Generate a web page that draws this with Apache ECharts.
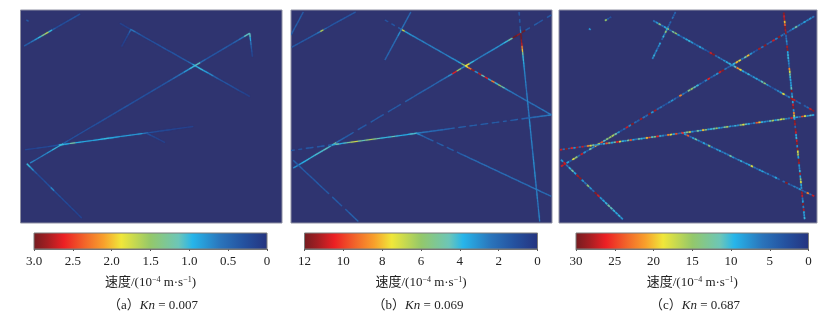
<!DOCTYPE html>
<html>
<head>
<meta charset="utf-8">
<style>html,body{margin:0;padding:0;background:#fff}#c{width:830px;height:321px}</style>
<script src="https://cdn.jsdelivr.net/npm/echarts@6/dist/echarts.min.js"></script>
</head>
<body>
<div id="c"></div>
<script>
// colour scale, from the left end (maximum speed) to the right end (zero speed)
const paletteStops = [[0,'#741c20'],[0.06,'#a51e22'],[0.13,'#ec2024'],[0.22,'#f2662a'],[0.3,'#f8a02c'],[0.375,'#f0e73a'],[0.5,'#94c86a'],[0.62,'#6cc6b8'],[0.68,'#27b5ea'],[0.8,'#2a74bb'],[0.9,'#24519f'],[1,'#25337f']];

const maxSpeeds = [3, 12, 30];
const tickSteps = [0.5, 2, 5];
const captionTags = ['（a）', '（b）', '（c）'];
const knValues = ['0.007', '0.069', '0.687'];
const axisTitle = '速度/(10{sup|−4} m·s{sup|−1})';

// each fracture: [x1, y1, x2, y2, speeds sampled along it] (field units, y down)
const fracturesA = [
  [11,108,179,12,[0.4,0.45,0.6,0.8,1.0,1.3,1.6,1.0,0.4,0.25,0.3,0.25,0.3,0.35,0.35,0.3]],
  [18,30,24,34,[0.4]],
  [299,40,689,260,[0.15,0.15,0.6,0.4,0.3,0.32,0.3,0.32,0.35,0.32,0.35,0.35,0.4,0.5,0.9,1.0,0.85,0.7,0.45,0.35,0.35,0.3,0.25,0.2,0.15]],
  [331,60,304,110,[0.5,0.3,0.22,0.18,0.15,0.12]],
  [29,460,689,70,[0.7,0.6,0.7,0.8,1.0,1.0,0.4,0.3,0.32,0.3,0.32,0.3,0.3,0.32,0.3,0.3,0.32,0.35,0.32,0.3,0.32,0.3,0.35,0.32,0.35,0.4,0.5,0.6,0.8,1.0,1.1,0.5,0.35,0.35,0.35,0.4,0.35,0.45,0.6,1.1]],
  [689,70,697,140,[1.1,0.9,0.6,0.4,0.3,0.2]],
  [14,420,519,350,[0.22,0.18,0.25,0.22,0.25,0.3,1.0,0.9,1.2,0.95,0.9,0.85,0.9,0.95,1.0,0.9,0.85,0.8,0.85,0.8,0.85,0.6,0.3,0.25,0.22,0.22,0.18,0.18,0.15,0.15]],
  [379,370,434,398,[0.3,0.22,0.18,0.15]],
  [19,462,184,625,[1.0,0.8,0.4,0.25,0.25,0.3,0.3,0.7,0.3,0.3,0.25,0.25,0.22,0.22,0.18,0.18]]
];
const fracturesB = [
  [2,112,194,6,[1.5,1.6,1.4,1.6,1.5,1.6,1.7,1.8,2.5,6.5,2,1.4,1.5,1.4,1.5,1.6,1.5,1.4,1.5,1.5]],
  [0,75,37,6,[1.8,1.6,1.8,1.6,1.7,1.6]],
  [282,30,782,315,[1.3,0,1.4,0,1.6,7,3.5,3.2,3,2.8,2.6,2.8,2.6,2.8,2.7,2.6,2.8,2.6,2.7,2.8,3,3,3.5,6,7.5,9,11.5,3,11,4.5,10.5,3.5,9,4,6,4.5,3,2.6,2.4,2.4,2.2,2.4,2.2,2.2,2.3,2.2,2.4,2.6,2.4,2.6]],
  [360,6,282,150,[2,2.2,2.2,2.4,2.2,3,2.4,2.2,2.2,2,2,1.8]],
  [7,475,782,15,[3,3.4,3.8,4,4,4.2,4.2,4.4,4.2,5,2.2,1.8,1.6,1.7,0,1.6,1.5,0,1.6,1.6,1.5,0,1.6,1.7,1.6,0,1.7,1.8,1.7,1.8,1.9,1.8,2,2,2.1,2.4,3,10.5,6,2.8,7.5,4,3,2.6,2.6,2.8,3,3.2,3.4,4,4.8,12,11.5,12,1.6,0,1.7,1.5,0,1.6]],
  [685,6,690,70,[1.6,0,1.6,0,1.8,3]],
  [690,70,747,635,[12,12,11.5,11,9,8,5,4,4,3.6,3.2,3,2.8,2.6,2.6,2.8,2.6,2.4,2.4,2.6,2.6,2.8,2.8,2.6,2.6,2.4,2.6,2.8,3,3,2.8,2.8,2.6,2.6,2.8,2.6,2.6,2.4,2.6,2.8,3,3,2.8,2.8,3,3,2.8,2.6,2.6,2.4,2.6,2.8,2.8,2.6,2.4,2.4,2.6,2.6,2.8,2.6]],
  [0,422,782,315,[1.5,0,1.4,0,1.5,1.5,0,1.5,1.6,0,1.7,3.5,4.5,3.6,4.2,5,6.5,7,5,4.5,5.5,6.5,5.5,4.5,4,4,4,4.5,4,3.8,3.6,3.8,4.2,4.2,2.5,2.4,2.2,2.2,2,2,2,1.8,1.8,1.8,0,1.8,1.7,0,1.8,1.7,0,1.7,1.7,0,1.7,1.6,0,1.7,0,1.6,1.8,0,1.8,1.8,2,2.2,2.2,2.4,2.4,2.6]],
  [377,370,782,560,[3,2.2,1.8,1.8,1.7,0,1.6,1.7,0,1.6,1.6,0,1.6,1.7,2,2,2.1,2.2,2.2,2.2,2.3,2.2,2.2,2.3,2.2,2.2,2.3,2.2,2.2,2.2,2.3,2.2,2.2,2.3,2.4,2.6,2.4,2.2,2.2,2.2]],
  [7,452,202,635,[1.8,1.6,1.7,1.6,1.6,1.6,1.5,1.6,1.6,1.5,1.6,0,1.6,1.6,1.5,0,1.6,1.8,1.8,2]]
];
const fracturesC = [
  [90,56,96,60,[8]],
  [138,32,158,20,[15,4,3]],
  [283,32,768,305,[6,8,13,6,9,16,5,12,15,8,4,7,9,10,8,5,6,9,7,4,3,27,29,5,7,6,8,9,10,8,11,22,18,9,7,10,6,8,9,7,11,14,8,5,3,5,7,8,18,5,7,29,27,4,5,0,4,5,27,29]],
  [350,6,280,148,[5,4,6,0,5,4,6,9,14,6,10,4,0,9,7,5,8,6,10,7]],
  [6,470,768,18,[27,28,9,4,18,14,5,27,8,4,12,7,20,18,24,11,14,15,16,12,8,3,5,27,7,29,5,4,28,6,5,29,8,28,5,6,4,3,6,8,5,3,22,6,4,13,15,11,10,5,3,7,26,4,6,8,27,29,6,4,7,10,20,18,6,12,20,8,5,3,28,6,29,4,5,27,7,29,6,5,4,5,8,12,7,6,9,7,8,6]],
  [675,8,738,630,[29,27,28,20,24,29,28,29,5,6,8,5,28,29,9,10,10,8,7,5,22,18,12,10,9,8,9,11,29,7,10,28,9,27,29,8,22,18,8,29,28,5,29,27,9,10,27,29,8,29,18,16,9,29,28,8,7,10,28,9,14,18,9,8,29,28,27,6,9,29,7,28,9,8,10]],
  [3,420,768,315,[27,6,29,5,26,8,28,5,27,4,22,18,12,7,9,6,10,24,14,9,12,26,18,10,8,12,24,9,6,12,10,8,20,24,11,14,26,10,7,5,22,18,9,24,5,7,11,13,18,8,5,12,9,20,14,8,10,11,15,9,7,12,16,8,6,10,7,14,18,11,9,5,7,24,20,10,8,7,11,16,9,12,18,15,7,6,26,10,9,6,24,18,8,11,9]],
  [368,368,768,560,[26,8,24,5,9,12,7,5,9,6,14,7,5,8,9,6,7,6,12,8,5,7,10,6,8,9,18,6,5,8,9,6,7,3,5,9,4,0,5,29,5,4,7,6,8,5,4,22,5,27]],
  [6,450,193,630,[8,27,6,10,12,9,28,29,8,6,14,8,5,29,27,8,9,10,12,11,10,9,10,8]]
];
const panelFractures = [fracturesA, fracturesB, fracturesC];

// layout
const fieldLayout = [
  {left:20.5, width:261.5, xMax:786},
  {left:291, width:261, xMax:784},
  {left:559, width:258, xMax:775}
];
const barLayout = [{left:34, width:233},{left:304.5, width:233},{left:576, width:232.5}];
const captionCenters = [153, 418, 695];
const cellFill = [1, 1, 0.82];
const cellWidth = [1.1, 1.1, 1.4];

function hex(c){return [1,3,5].map(i=>parseInt(c.substr(i,2),16));}
function speedColor(f){
  const t = Math.min(1, Math.max(0, 1 - f));
  for (let i = 1; i < paletteStops.length; i++) {
    if (t <= paletteStops[i][0]) {
      const a = paletteStops[i-1], b = paletteStops[i];
      const k = (t - a[0]) / (b[0] - a[0]);
      const ca = hex(a[1]), cb = hex(b[1]);
      return 'rgb(' + ca.map((v,j)=>Math.round(v + (cb[j]-v)*k)).join(',') + ')';
    }
  }
  return paletteStops[paletteStops.length-1][1];
}

const grids=[], xAxes=[], yAxes=[], series=[], titles=[];
const serif = '"Liberation Serif","Noto Sans CJK SC",serif';

panelFractures.forEach((list, p) => {
  const g = grids.length;
  grids.push({left:fieldLayout[p].left, width:fieldLayout[p].width, top:10, height:213,
    show:true, backgroundColor:'#2f3470', borderColor:'#8f90a3', borderWidth:1});
  xAxes.push({gridIndex:g, type:'value', min:0, max:fieldLayout[p].xMax, show:false});
  yAxes.push({gridIndex:g, type:'value', min:0, max:640, inverse:true, show:false});
  series.push({
    type:'custom', xAxisIndex:g, yAxisIndex:g, coordinateSystem:'cartesian2d', clip:true, silent:true,
    animation:false,
    data:list.map((f,i)=>[f[0],f[1],i]),
    encode:{x:0,y:1},
    renderItem:function(params, api){
      const f = list[params.dataIndex];
      const a = api.coord([f[0],f[1]]), b = api.coord([f[2],f[3]]);
      const vals = f[4], n = vals.length, children = [];
      const fill = cellFill[p];
      vals.forEach((v,i)=>{
        if (!v) return;
        const c = speedColor(v / maxSpeeds[p]);
        children.push({type:'line', silent:true,
          shape:{x1:a[0]+(b[0]-a[0])*i/n, y1:a[1]+(b[1]-a[1])*i/n,
                 x2:a[0]+(b[0]-a[0])*(i+fill)/n, y2:a[1]+(b[1]-a[1])*(i+fill)/n},
          style:{stroke:c, lineWidth:cellWidth[p], lineCap:'butt', opacity:0.9, shadowBlur:1, shadowColor:c}});
      });
      return {type:'group', children};
    }
  });

  const h = grids.length;
  grids.push({left:barLayout[p].left, width:barLayout[p].width, top:233, height:16, show:false});
  const maxV = maxSpeeds[p];
  xAxes.push({gridIndex:h, type:'value', inverse:true, min:0, max:maxV, interval:tickSteps[p],
    axisLine:{show:true, onZero:false, lineStyle:{color:'#6f6f6f', width:1}},
    axisTick:{show:true, length:2, lineStyle:{color:'#555'}},
    splitLine:{show:false},
    axisLabel:{show:true, margin:6, color:'#222', fontFamily:serif, fontSize:13,
      formatter:v => v===0 ? '0' : (p===0 ? v.toFixed(1) : String(v)), hideOverlap:false, showMinLabel:true, showMaxLabel:true},
    name:axisTitle, nameLocation:'middle', nameGap:27,
    nameTextStyle:{color:'#222', fontFamily:serif, fontSize:13, lineHeight:14,
      rich:{sup:{fontSize:8, verticalAlign:'top', lineHeight:10, fontFamily:serif, color:'#222'}}}
  });
  yAxes.push({gridIndex:h, type:'value', min:0, max:1, show:false});
  series.push({
    type:'custom', xAxisIndex:h, yAxisIndex:h, silent:true, animation:false,
    data:[[maxV,1]],
    encode:{x:0,y:1},
    renderItem:function(params, api){
      const lt = api.coord([maxV,1]), rb = api.coord([0,0]);
      return {type:'rect', shape:{x:lt[0], y:lt[1], width:rb[0]-lt[0], height:rb[1]-lt[1]},
        style:{stroke:'#7c7c7c', lineWidth:1,
          fill:new echarts.graphic.LinearGradient(0,0,1,0,paletteStops.map(s=>({offset:s[0],color:s[1]})))}};
    }
  });
  titles.push({
    text:captionTags[p]+'{kn|Kn} = '+knValues[p],
    left:captionCenters[p], top:299, textAlign:'center', padding:0,
    textStyle:{color:'#222', fontFamily:serif, fontWeight:'normal', fontSize:13, lineHeight:14,
      rich:{kn:{fontStyle:'italic', fontFamily:serif, fontSize:13, color:'#222'}}}
  });
});

const chart = echarts.init(document.getElementById('c'), null, {renderer:'canvas'});
chart.setOption({animation:false, backgroundColor:'#fff', title:titles, grid:grids, xAxis:xAxes, yAxis:yAxes, series});
</script>
</body>
</html>
